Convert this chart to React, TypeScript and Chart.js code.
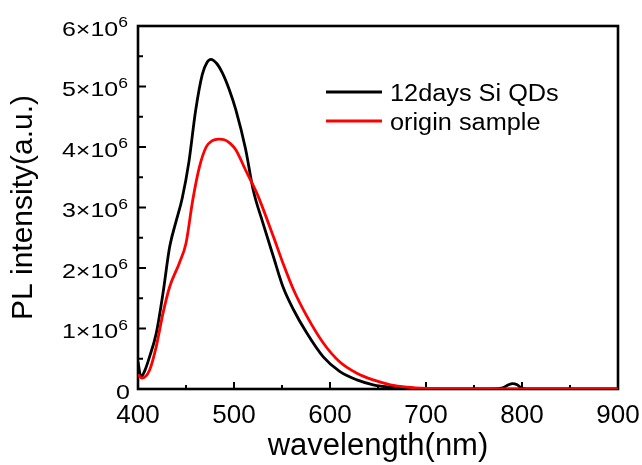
import React, { useEffect, useRef } from 'react';
import { Chart, registerables } from 'chart.js';

Chart.register(...registerables);

// ---- data ----
const seriesNames = ['12days Si QDs', 'origin sample'];
const seriesColors = ['#000000', '#ff0000'];

const xMajorTicks = [400, 500, 600, 700, 800, 900];
const yTickMantissas = [0, 1, 2, 3, 4, 5, 6];
const yExponent = '6';

const qdWavelength = [
  400, 403, 407, 412, 419, 426, 433, 440, 446, 453, 460, 467, 472, 476, 482, 488,
  495, 502, 512, 520, 530, 541, 551, 562, 576, 593, 610, 628, 645, 663, 690, 720,
  770, 780, 786, 790, 795, 800, 810, 900,
];
const qdIntensity = [
  0.45e6, 0.2e6, 0.3e6, 0.53e6, 0.92e6, 1.58e6, 2.35e6, 2.79e6, 3.15e6, 3.75e6, 4.6e6, 5.2e6,
  5.4e6, 5.45e6, 5.38e6, 5.22e6, 4.95e6, 4.61e6, 3.97e6, 3.29e6, 2.75e6, 2.19e6, 1.69e6,
  1.31e6, 0.92e6, 0.53e6, 0.29e6, 0.15e6, 0.07e6, 0.03e6, 0.01e6, 0,
  0, 0.02e6, 0.07e6, 0.09e6, 0.07e6, 0.01e6, 0, 0,
];

const originWavelength = [
  400, 404, 412, 419, 426, 433, 443, 450, 457, 464, 471, 477, 484, 490, 496, 502,
  512, 524, 541, 551, 562, 576, 593, 610, 628, 645, 663, 680, 700, 740, 900,
];
const originIntensity = [
  0.24e6, 0.18e6, 0.31e6, 0.7e6, 1.25e6, 1.69e6, 2.08e6, 2.41e6, 3.12e6, 3.67e6, 4.0e6,
  4.1e6, 4.13e6, 4.12e6, 4.06e6, 3.95e6, 3.62e6, 3.23e6, 2.52e6, 2.08e6, 1.64e6, 1.2e6,
  0.76e6, 0.45e6, 0.26e6, 0.15e6, 0.07e6, 0.03e6, 0.01e6, 0, 0,
];

const FONT = '"Liberation Sans", Arial, Helvetica, sans-serif';

const toPoints = (xs: number[], ys: number[]) => xs.map((x, i) => ({ x, y: ys[i] }));

const framePlugin = {
  id: 'frameTicks',
  beforeDatasetsDraw(chart: any) {
    const { ctx, chartArea: a, scales } = chart;
    const xs = scales.x;
    const ys = scales.y;
    ctx.save();
    ctx.strokeStyle = '#000';
    ctx.lineWidth = 2.6;
    ctx.strokeRect(a.left, a.top, a.right - a.left, a.bottom - a.top);
    ctx.lineWidth = 2;
    ctx.beginPath();
    for (let i = 0; i < xMajorTicks.length; i++) {
      const px = xs.getPixelForValue(xMajorTicks[i]);
      ctx.moveTo(px, a.bottom);
      ctx.lineTo(px, a.bottom - 7);
      if (i < xMajorTicks.length - 1) {
        const mid = xs.getPixelForValue((xMajorTicks[i] + xMajorTicks[i + 1]) / 2);
        ctx.moveTo(mid, a.bottom);
        ctx.lineTo(mid, a.bottom - 4);
      }
    }
    for (let i = 0; i < yTickMantissas.length; i++) {
      const py = ys.getPixelForValue(yTickMantissas[i] * 1e6);
      ctx.moveTo(a.left, py);
      ctx.lineTo(a.left + 8, py);
      if (i < yTickMantissas.length - 1) {
        const mid = ys.getPixelForValue((yTickMantissas[i] + 0.5) * 1e6);
        ctx.moveTo(a.left, mid);
        ctx.lineTo(a.left + 5, mid);
      }
    }
    ctx.stroke();
    ctx.restore();
  },
  afterDraw(chart: any) {
    const { ctx, chartArea: a, scales } = chart;
    const ys = scales.y;
    ctx.save();
    ctx.fillStyle = '#000';
    ctx.textBaseline = 'alphabetic';
    ctx.textAlign = 'left';
    const sx = 1.25;
    const rightEdge = a.left - 10;
    for (const m of yTickMantissas) {
      const py = ys.getPixelForValue(m * 1e6);
      if (m === 0) {
        ctx.font = `20px ${FONT}`;
        const w = ctx.measureText('0').width * sx;
        ctx.save();
        ctx.translate(rightEdge + 2 - w, py + 9.5);
        ctx.scale(sx, 1);
        ctx.fillText('0', 0, 0);
        ctx.restore();
        continue;
      }
      const main = `${m}×10`;
      ctx.font = `14px ${FONT}`;
      const ws = ctx.measureText(yExponent).width * sx;
      ctx.font = `20px ${FONT}`;
      const wm = ctx.measureText(main).width * sx;
      const x0 = rightEdge - ws - wm;
      ctx.save();
      ctx.translate(x0, py + 9.5);
      ctx.scale(sx, 1);
      ctx.fillText(main, 0, 0);
      ctx.restore();
      ctx.font = `14px ${FONT}`;
      ctx.save();
      ctx.translate(x0 + wm, py + 1);
      ctx.scale(sx, 1);
      ctx.fillText(yExponent, 0, 0);
      ctx.restore();
    }

    // legend
    const lx0 = a.left + 188;
    const lx1 = a.left + 244;
    const tx = a.left + 252;
    for (let i = 0; i < seriesNames.length; i++) {
      const y = a.top + 66 + i * 29;
      ctx.strokeStyle = seriesColors[i];
      ctx.lineWidth = 3;
      ctx.beginPath();
      ctx.moveTo(lx0, y);
      ctx.lineTo(lx1, y);
      ctx.stroke();
      ctx.font = `23px ${FONT}`;
      ctx.save();
      ctx.translate(tx, y + 8.5);
      ctx.scale(1.1, 1);
      ctx.fillText(seriesNames[i], 0, 0);
      ctx.restore();
    }
    ctx.restore();
  },
};

export default function App() {
  const ref = useRef<HTMLCanvasElement | null>(null);

  useEffect(() => {
    if (!ref.current) return;
    const chart = new Chart(ref.current, {
      type: 'line',
      data: {
        datasets: [
          {
            label: seriesNames[0],
            data: toPoints(qdWavelength, qdIntensity),
            borderColor: seriesColors[0],
            backgroundColor: seriesColors[0],
            borderWidth: 2.8,
            pointRadius: 0,
            fill: false,
            cubicInterpolationMode: 'monotone',
            order: 1,
          },
          {
            label: seriesNames[1],
            data: toPoints(originWavelength, originIntensity),
            borderColor: seriesColors[1],
            backgroundColor: seriesColors[1],
            borderWidth: 2.8,
            pointRadius: 0,
            fill: false,
            cubicInterpolationMode: 'monotone',
            order: 0,
          },
        ],
      },
      options: {
        animation: false,
        responsive: false,
        devicePixelRatio: 1,
        layout: { padding: { top: 26, right: 24, left: 0, bottom: 0 } },
        plugins: {
          legend: { display: false },
          tooltip: { enabled: false },
        },
        scales: {
          x: {
            type: 'linear',
            min: 400,
            max: 900,
            grid: { display: false },
            border: { display: false },
            ticks: {
              stepSize: 100,
              color: '#000',
              padding: 3,
              font: { family: FONT, size: 26 },
              maxRotation: 0,
              autoSkip: false,
            },
            title: {
              display: true,
              text: 'wavelength(nm)',
              color: '#000',
              font: { family: FONT, size: 31 },
              padding: { top: 0, bottom: 0 },
            },
            afterFit: (s: any) => {
              s.height = 76;
              s.paddingLeft = 0;
              s.paddingRight = 0;
            },
          },
          y: {
            type: 'linear',
            min: 0,
            max: 6e6,
            grid: { display: false },
            border: { display: false },
            ticks: { display: false, stepSize: 1e6 },
            title: {
              display: true,
              text: 'PL intensity(a.u.)',
              color: '#000',
              font: { family: FONT, size: 30 },
              padding: { top: 6, bottom: 0 },
            },
            afterFit: (s: any) => {
              s.width = 138;
              s.paddingTop = 0;
              s.paddingBottom = 0;
            },
          },
        },
      },
      plugins: [framePlugin],
    } as any);
    return () => chart.destroy();
  }, []);

  return (
    <div style={{ position: 'absolute', left: 0, top: 0, width: 642, height: 465, background: '#fff' }}>
      <canvas ref={ref} width={642} height={465} style={{ display: 'block' }} />
    </div>
  );
}
